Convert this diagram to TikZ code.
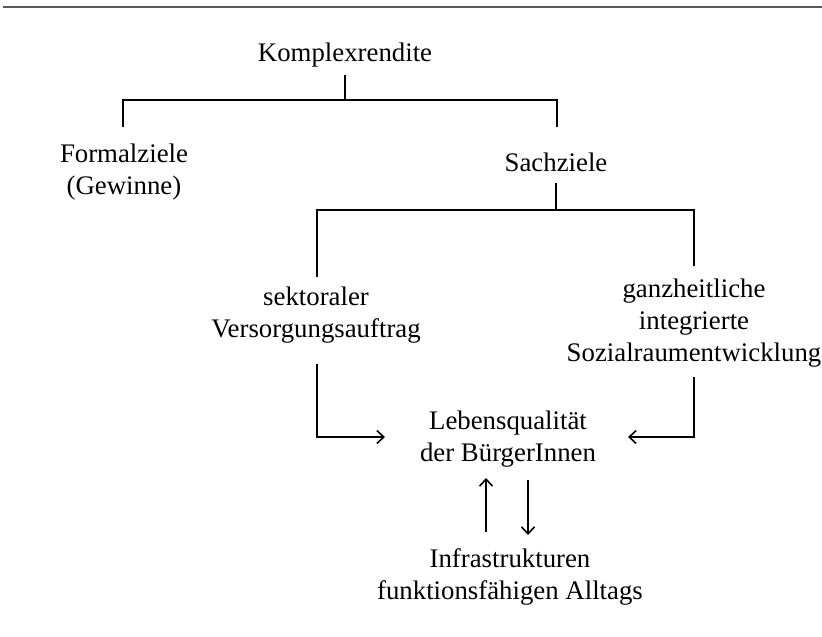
\documentclass[tikz,border=0pt]{standalone}
\usepackage{fontspec}
\setmainfont{Liberation Serif}
\usetikzlibrary{arrows.meta}
\begin{document}
\begin{tikzpicture}[x=0.5pt,y=-0.5pt,
  lbl/.style={align=center,inner sep=0pt,font=\fontsize{13.4}{15.8}\selectfont},
  ln/.style={line width=0.8pt,black},
  arr/.style={ln,-{Straight Barb[length=3.5pt,width=6.5pt,line width=0.8pt]}}]
\useasboundingbox (0,0) rectangle (822,636);
\draw[line width=1.1pt,black!65] (3,7) -- (822,7);
\node[lbl] (kr) at (345,55) {Komplexrendite};
\node[lbl] (fz) at (124,172) {Formalziele\\(Gewinne)};
\node[lbl] (sz) at (556,162) {Sachziele};
\node[lbl] (sv) at (316,315) {sektoraler\\Versorgungsauftrag};
\node[lbl] (gi) at (694,323) {ganzheitliche\\integrierte\\Sozialraumentwicklung};
\node[lbl] (lq) at (508,439) {Lebensqualität\\der BürgerInnen};
\node[lbl] (inf) at (510,577) {Infrastrukturen\\funktionsfähigen Alltags};
% tree lines
\draw[ln] (345,75) -- (345,100);
\draw[ln] (123,127) |- (557,100) -- (557,127);
\draw[ln] (556,183) -- (556,210);
\draw[ln] (317,277) |- (694,210) -- (694,266);
% arrows into Lebensqualitaet
\draw[arr] (317,364) |- (385,437);
\draw[arr] (694,377) |- (628,437);
\draw[arr] (486,532) -- (486,478);
\draw[arr] (528,480) -- (528,535);
\end{tikzpicture}
\end{document}
